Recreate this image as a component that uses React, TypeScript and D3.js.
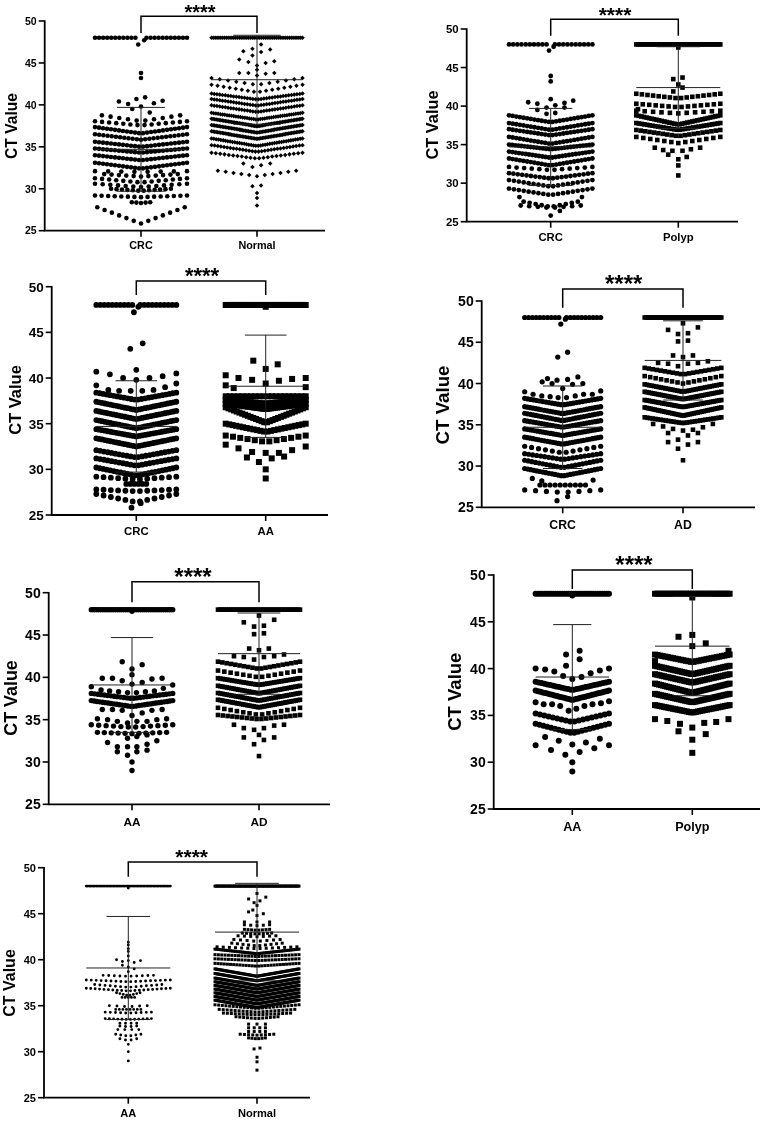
import React from "react";
import * as d3 from "d3";

type Row = [number, number, number, number, number?];
type Dot = [number, number];

const yTicks = [25, 30, 35, 40, 45, 50];
const stars = "****";
const yTitle = "CT Value";

// ---- summary values ----
const crcSummary = [34.7, 5.0];
const normalSummary = [43.0, 5.3];
const polypSummary = [42.4, 5.3];
const adSummary = [42.8, 4.8];
const aaSummary = [39.1, 5.6];

// rows: value, count, spread, sag toward the centre, inner gap.  dots: value, offset
const crc1Rows: Row[] = [[48,21,1,0,.12],[38.75,10,.85,.7],[38.05,14,1,.5],[37.35,24,1,.75],[36.5,23,1,.65],[35.6,24,1,.6],[34.8,24,1,.5],[34,24,1,.6],[33.1,24,1,.7],[32.1,8,1,.1],[31.75,11,.8,.3],[31.25,14,1,.5],[30.6,13,1,.4],[30,12,.65,.25],[29.2,15,1,.2],[28.4,5,.2,.1],[27.8,13,.95,1.95]];
const crc1Dots: Dot[] = [[47.7,.07],[47.2,-.06],[43.8,0],[43.2,0],[40.4,-.48],[40.1,-.28],[40.7,-.1],[40.9,.09],[40.2,.28],[40.5,.47],[39.5,-.19],[39.8,0],[39.1,.19]];
const normal1Rows: Row[] = [[48,50,1,0],[43.2,12,1,.8],[42.4,16,1,.9],[41.35,34,1,.7],[40.7,34,1,.8],[39.95,34,1,.8],[39.05,42,1,.8],[38.35,60,1,.9],[37.6,60,1,.9],[36.85,60,1,.9],[36,40,1,.9],[35.2,30,1,.8],[34.3,22,1,.7],[32.15,11,.86,.65]];
const normal1Dots: Dot[] = [[47.2,.09],[46.7,-.1],[46.4,-.3],[46.6,.29],[46.3,.09],[45.9,-.1],[45.4,-.39],[45.1,-.19],[44.7,0],[44.2,0],[45,.19],[45.2,.38],[43.8,-.39],[43.8,-.19],[43.7,.19],[43.8,.38],[43.5,0],[33,-.3],[32.6,-.1],[32.8,.09],[33,.29],[30.3,-.1],[30.4,.09],[29.5,0],[28.9,0],[28,0]];

const crc2Rows: Row[] = [[48,20,1,0,.1],[38.8,24,1,.9],[37.8,24,1,.9],[37,24,1,.8],[36,24,1,.9],[35,28,1,.6],[34.1,26,1,.8],[33.2,24,1,.9],[32.1,12,1,.4],[31.3,20,1,.7],[30.4,18,1,.85],[29.3,18,1,.85],[27.6,10,.65,.7],[27.1,8,.72,.3]];
const crc2Dots: Dot[] = [[47.7,.07],[47.2,-.04],[43.9,0],[43.2,0],[40.5,-.54],[40.3,-.32],[39.5,-.32],[39.8,-.1],[40.9,0],[40.1,.11],[40.4,.33],[39.8,.33],[40.7,.54],[39,-.1],[39.1,.11],[28.2,-.75],[28.2,.75],[25.8,0],[26.4,.22]];
const polyp2Rows: Row[] = [[48,44,1,0],[41.6,16,1,.6],[40.3,14,1,.45],[39.4,11,1,.35],[38.8,34,1,1.2],[37.8,32,1,.9],[36.9,20,1,.8],[36,13,1,.8]];
const polyp2Dots: Dot[] = [[47.6,0],[43.7,.1],[43.5,-.12],[42.8,0],[42.4,.1],[41.9,-.12],[39.6,-.96],[34.6,-.56],[34.3,-.36],[34.2,-.14],[34.2,.1],[34.4,.3],[34.6,.52],[33.7,-.24],[33.1,0],[33.4,.2],[32.3,0],[31,0]];

const crc3Rows: Row[] = [[48,20,1,0,.1],[38.4,24,1,.8],[37.4,29,1,.9],[36.4,29,1,.9],[35.4,29,1,.9],[34.4,29,1,.8],[33.4,29,1,.9],[32.1,22,1,.8],[31.2,22,1,.8],[30.2,24,1,.9],[29.2,12,1,.3],[28.4,6,.25,0],[27.8,12,1,.2],[27.3,12,1,.9]];
const crc3Dots: Dot[] = [[47.8,.05],[47.2,-.06],[43.8,.16],[43.2,-.15],[40.7,-1],[40.4,-.66],[40,-.33],[40.9,0],[39.8,0],[40,.33],[40.2,.66],[40.5,1],[39.2,-1],[39.4,1],[38.7,-.7],[38.6,-.43],[38.6,-.14],[38.6,.15],[38.7,.43],[39,.72],[26.3,.11],[25.8,-.12]];
const aa3Rows: Row[] = [[48,40,1,0],[38,20,1,0],[37.6,30,1,.4],[37.2,40,1,.6],[36.8,30,1,1.7],[35,24,1,.9],[33.7,12,1,.7]];
const aa3Dots: Dot[] = [[47.8,0],[41.9,-.31],[41.5,.3],[41,0],[40.3,-1],[40,-.68],[39.8,-.34],[39.7,.33],[39.9,.66],[40,1],[39.4,0],[39.2,-1],[38.9,-.8],[39,1],[32.3,-.68],[31.9,-.34],[31.3,-.47],[30.8,-.17],[31.8,0],[31.2,.15],[31.8,.33],[31.4,.46],[32.1,.66],[32.5,1],[32.7,-1],[30,0],[29,0]];

const crc4Rows: Row[] = [[48,19,1,0,.1],[38.2,26,1,.8],[37.2,28,1,.85],[36.4,28,1,.9],[35.5,28,1,.8],[34.5,30,1,.8],[33.5,28,1,.85],[32.4,12,1,.8],[31.5,20,1,.7],[30.7,22,1,.9],[29.7,26,1,.9],[27.7,10,.6,0],[27.1,8,1,.3]];
const crc4Dots: Dot[] = [[47.8,.07],[47.2,-.05],[43.8,.13],[43.2,-.13],[40.2,-.54],[40.6,-.4],[40,-.28],[40.4,-.15],[40.5,.13],[39.9,.26],[40.8,.4],[40,.53],[39.4,0],[39,-1],[38.7,-.78],[38.5,-.55],[38.4,-.33],[38.3,-.12],[38.3,.1],[38.5,.33],[38.7,.55],[38.7,.78],[39.1,1],[28.5,-.8],[28.2,-.55],[28.3,.8],[26.3,.13],[25.8,-.15]];
const ad4Rows: Row[] = [[48,44,1,0],[41.9,20,1,.8],[40.9,15,1,.9],[39.9,34,1,.9],[39,40,1,.9],[38,40,1,.85],[37.1,40,1,1],[35.9,30,1,.7]];
const ad4Dots: Dot[] = [[47.3,0],[46.8,.39],[46.5,-.39],[46,-.13],[46.1,.13],[45.1,-.13],[45.2,.13],[43.4,-.26],[43.4,.26],[43.2,0],[42.5,-.65],[42.4,-.39],[42.1,-.13],[42.4,.13],[42.5,.39],[42.7,.65],[35.1,-.78],[34.8,-.52],[35.1,.78],[34.7,.52],[34.5,-.26],[34.3,0],[34.4,.26],[34,-.39],[34,.39],[33.7,.13],[32.9,-.39],[33.2,-.13],[32.6,.13],[32.9,.39],[32.1,-.13],[30.7,0]];

const aa5Rows: Row[] = [[48,40,1,0],[38.1,26,1,.6],[37.25,30,1,.7],[34.4,12,1,.3],[33.5,11,.85,.15]];
const aa5Dots: Dot[] = [[47.8,0],[41.85,-.24],[41.5,.25],[41,0],[40.3,0],[39.9,-.73],[39.9,-.48],[39.6,-.24],[39.8,.49],[39.9,.74],[39.2,0],[39.4,.25],[38.9,-1],[39.1,1],[38.7,.77],[38.5,-.76],[38.4,-.55],[38.3,-.33],[38.2,-.11],[38.2,.11],[38.3,.33],[38.4,.55],[36.2,-.73],[36.2,-.48],[36.1,-.24],[35.8,.25],[36.1,.49],[36.2,.74],[35.5,0],[35.1,-.85],[35,-.6],[34.8,-.36],[34.6,-.11],[34.8,.12],[34.8,.37],[35,.61],[35.1,.85],[32.8,-.11],[33,.12],[33.2,.37],[32.5,.61],[32.3,-.6],[31.8,-.36],[31.2,-.36],[31.8,-.11],[31.8,.12],[31.2,.12],[32.1,.37],[31.4,.37],[30.8,-.11],[30,0],[29,0]];
const ad5Rows: Row[] = [[48,44,1,0],[41.85,20,1,.85],[40.8,14,1,.8],[39.9,36,1,.8],[39,38,1,.9],[38.15,38,1,.9],[37.35,40,1,.9],[36.4,14,1,.85],[35.55,18,1,.5]];
const ad5Dots: Dot[] = [[47.3,0],[46.8,.37],[46.5,-.37],[46,-.12],[46.1,.12],[45.1,-.12],[45.2,.12],[43.4,-.24],[43.4,.24],[43.2,0],[42.5,-.61],[42.4,-.37],[42.1,-.12],[42.4,.12],[42.5,.37],[42.7,.61],[34.4,-.61],[34,-.37],[33.8,-.12],[34,.12],[34.3,.37],[34.4,.61],[32.9,-.37],[33.2,0],[32.6,.12],[32.9,.37],[32.1,-.12],[30.7,0]];

const aa6Rows: Row[] = [[48,34,1,0],[38.6,26,1,.9],[37.65,32,1,1],[35.2,18,1,.9],[34.1,20,1,1]];
const aa6Dots: Dot[] = [[47.8,0],[41.9,.2],[41.5,-.17],[41,.2],[40.3,-.17],[40,-1],[39.9,-.74],[39.7,-.49],[40,1],[39.8,.75],[39.5,.5],[39.2,-.25],[38.9,0],[39.1,.25],[36.4,-1],[36.2,-.78],[36.2,-.55],[36,-.33],[35.5,-.1],[35.7,.11],[36,.33],[36.2,.55],[36.3,.78],[36.5,1],[32.7,-.74],[32.3,-.37],[32.5,.75],[32.1,.37],[31.8,-1],[31.8,1],[31.9,0],[31.3,-.58],[31.5,.6],[31.1,.2],[30.8,-.19],[30,0],[29,0]];
const polyp6Rows: Row[] = [[48,30,1,0],[41.5,30,1,.8],[40.3,34,1,.9],[39.4,34,1,.9],[38.4,38,1,1],[37.3,38,1,.9],[36.1,34,1,.8]];
const polyp6Dots: Dot[] = [[47.6,0],[43.4,-.37],[43.6,0],[42.7,.36],[42.4,0],[41.9,.97],[40.8,-1],[34.6,-1],[34.4,-.67],[34.1,-.33],[33.7,0],[34.2,.32],[34.3,.64],[34.6,.97],[33.3,-.37],[33,.36],[32.4,0],[31,0]];

const aa7Rows: Row[] = [[48,60,1,0],[38.3,10,.6,.1],[37.8,18,1,.2],[37.3,14,.8,.3],[36.9,20,1,.3],[36.4,8,.28,.3],[35.9,5,.15,0],[35,6,.45,.1],[34.6,8,.3,0],[34.3,10,.55,.1],[33.6,12,.55,.1],[33.1,4,.2,0],[32.8,4,.2,.1],[32.4,4,.25,0],[31.9,6,.3,.2],[31.4,4,.2,.2]];
const aa7Dots: Dot[] = [[47.8,0],[41.9,0],[41.6,0],[41.2,0],[40.9,0],[40.4,0],[40,-.28],[39.8,-.14],[39.9,0],[39.7,.14],[39.9,.29],[39.4,-.14],[39.2,0],[38.7,0],[39,.14],[30.8,0],[30,0],[29,0]];
const normal7Rows: Row[] = [[48,70,1,0],[44.1,3,.3,0],[43.8,5,.3,.1],[43.3,8,.3,.1],[42.9,8,.35,.1],[42.6,7,.45,.1],[42.2,8,.55,.2],[41.8,10,.6,.3],[41.4,14,.95,.2],[41.15,50,1,.5],[40.55,26,1,.2],[40.1,26,1,.2],[39.6,28,1,.3],[39,70,1,.8],[38.5,70,1,.8],[38,70,1,.8],[37.6,70,1,.8],[37.2,70,1,.8],[36.8,70,1,.8],[36.4,70,1,.8],[36,70,1,.8],[35.6,70,1,.8],[35.1,24,1,.4],[34.6,20,.9,.3],[34.2,18,.8,.2],[33.8,12,.5,.2],[33,3,.2,0],[32.6,4,.2,0],[32.2,4,.2,0],[31.9,9,.4,.1],[31.5,6,.2,.1]];
const normal7Dots: Dot[] = [[47.2,0],[46.6,-.2],[46.8,.21],[46.2,-.07],[46.4,.07],[45.9,0],[45.4,-.1],[45.2,-.2],[45,.15],[44.8,0],[30.4,.07],[30.3,-.07],[29.4,0],[28.9,0],[28,0]];

const symbols: Record<string, d3.SymbolType> = { circle: d3.symbolCircle, square: d3.symbolSquare, diamond: d3.symbolDiamond2 };

interface Group { name: string; rows: Row[]; dots: Dot[]; summary: number[]; shape: string; size: number; hw: number; }
interface Panel {
  ax: number; y50: number; y25: number; xEnd: number; cx: [number, number];
  brY: number; brEnd: number; starX: number; starY: number; starFs: number;
  labY: number; labFs: number; tickFs: number; titleX: number; titleY: number; titleFs: number;
  groups: [Group, Group];
}

const g = (name: string, rows: Row[], dots: Dot[], summary: number[], shape: string, size: number, hw: number): Group =>
  ({ name, rows, dots, summary, shape, size, hw });

const panels: Panel[] = [
  { ax: 44.7, y50: 21, y25: 230.7, xEnd: 325, cx: [141, 257], brY: 16.3, brEnd: 33, starX: 200, starY: 7, starFs: 20, labY: 245, labFs: 10.8, tickFs: 10.5, titleX: 11.5, titleY: 126, titleFs: 15.6,
    groups: [g("CRC", crc1Rows, crc1Dots, crcSummary, "circle", 4.6, 46), g("Normal", normal1Rows, normal1Dots, normalSummary, "diamond", 3.6, 45.5)] },
  { ax: 466.7, y50: 29, y25: 221.7, xEnd: 738, cx: [550.7, 678.3], brY: 19.3, brEnd: 35.7, starX: 615, starY: 10, starFs: 21, labY: 237, labFs: 11.3, tickFs: 11.4, titleX: 431.7, titleY: 125, titleFs: 16.4,
    groups: [g("CRC", crc2Rows, crc2Dots, crcSummary, "circle", 4.8, 41.7), g("Polyp", polyp2Rows, polyp2Dots, polypSummary, "square", 4.6, 42)] },
  { ax: 51.7, y50: 286.7, y25: 515, xEnd: 328, cx: [136.3, 265.7], brY: 281, brEnd: 295, starX: 202, starY: 270.7, starFs: 22, labY: 530.7, labFs: 11.4, tickFs: 13.5, titleX: 15, titleY: 400, titleFs: 16.5,
    groups: [g("CRC", crc3Rows, crc3Dots, crcSummary, "circle", 5.8, 40), g("AA", aa3Rows, aa3Dots, aaSummary, "square", 6, 40)] },
  { ax: 481.7, y50: 301, y25: 507.3, xEnd: 755, cx: [562.7, 683], brY: 289, brEnd: 307.7, starX: 623.7, starY: 278.3, starFs: 24, labY: 524.3, labFs: 12.3, tickFs: 14, titleX: 442.3, titleY: 405, titleFs: 18.7,
    groups: [g("CRC", crc4Rows, crc4Dots, crcSummary, "circle", 5.2, 38), g("AD", ad4Rows, ad4Dots, adSummary, "square", 4.6, 38.3)] },
  { ax: 48.7, y50: 592.7, y25: 804.3, xEnd: 330, cx: [132, 259], brY: 581.7, brEnd: 602.3, starX: 193, starY: 571, starFs: 24, labY: 821.7, labFs: 11.8, tickFs: 14, titleX: 11, titleY: 698, titleFs: 17.9,
    groups: [g("AA", aa5Rows, aa5Dots, aaSummary, "circle", 5.4, 40.7), g("AD", ad5Rows, ad5Dots, adSummary, "square", 4.6, 41)] },
  { ax: 493.7, y50: 575, y25: 809, xEnd: 760, cx: [572.3, 692.3], brY: 570, brEnd: 589, starX: 634, starY: 559.3, starFs: 24, labY: 826.7, labFs: 12.6, tickFs: 14, titleX: 454, titleY: 691.7, titleFs: 18.5,
    groups: [g("AA", aa6Rows, aa6Dots, aaSummary, "circle", 6, 36.7), g("Polyp", polyp6Rows, polyp6Dots, polypSummary, "square", 6, 37.3)] },
  { ax: 44, y50: 867.7, y25: 1097.7, xEnd: 310, cx: [128.3, 257], brY: 862, brEnd: 876.7, starX: 191.7, starY: 852.3, starFs: 21, labY: 1113.3, labFs: 11.1, tickFs: 11, titleX: 9.3, titleY: 983, titleFs: 16,
    groups: [g("AA", aa7Rows, aa7Dots, aaSummary, "circle", 2.9, 42), g("Normal", normal7Rows, normal7Dots, normalSummary, "square", 3, 42)] },
];

function rowPoints(row: Row): Dot[] {
  const [v, n, spread, sag, gap = 0] = row;
  const out: Dot[] = [];
  const t = (o: number) => [v - sag * (1 - Math.abs(o) / (spread || 1)), o] as Dot;
  if (gap > 0) {
    const side = Math.ceil(n / 2);
    const pos = d3.scaleLinear().domain([0, side - 1]).range([gap, spread]);
    for (let i = 0; i < side; i++) { out.push(t(pos(i))); out.push(t(-pos(i))); }
  } else if (n === 1) {
    out.push([v, 0]);
  } else {
    const pos = d3.scaleLinear().domain([0, n - 1]).range([-spread, spread]);
    for (let i = 0; i < n; i++) out.push(t(pos(i)));
  }
  return out;
}

const ink = "#000";
const font = "'Liberation Sans', Arial, sans-serif";

function PanelView({ p }: { p: Panel }) {
  const y = d3.scaleLinear().domain([25, 50]).range([p.y25, p.y50]);
  const x = d3.scalePoint<string>().domain(p.groups.map((d) => d.name)).range(p.cx);
  const tickLen = 6;
  const [x1, x2] = p.cx;
  return (
    <g fontFamily={font} fontWeight="bold" fill={ink}>
      {p.groups.map((gr) => {
        const cx = x(gr.name) as number;
        const xo = d3.scaleLinear().domain([-1, 1]).range([cx - gr.hw, cx + gr.hw]);
        const sym = d3.symbol().type(symbols[gr.shape]).size(gr.shape === "circle" ? Math.PI * (gr.size / 2) ** 2 : gr.size * gr.size)();
        const pts = [...gr.rows.flatMap(rowPoints), ...gr.dots];
        const [mean, sd] = gr.summary;
        return (
          <g key={gr.name}>
            {pts.map((d, i) => (
              <path key={i} d={sym as string} transform={`translate(${xo(d[1]).toFixed(2)},${y(d[0]).toFixed(2)})`} fill={ink} />
            ))}
            <g stroke="#222" strokeWidth={1} fill="none">
              <line x1={cx} x2={cx} y1={y(mean + sd)} y2={y(mean - sd)} />
              <line x1={xo(-1)} x2={xo(1)} y1={y(mean)} y2={y(mean)} />
              <line x1={xo(-0.52)} x2={xo(0.52)} y1={y(mean + sd)} y2={y(mean + sd)} />
              <line x1={xo(-0.52)} x2={xo(0.52)} y1={y(mean - sd)} y2={y(mean - sd)} />
            </g>
            <line x1={cx} x2={cx} y1={p.y25} y2={p.y25 + tickLen} stroke={ink} strokeWidth={1.6} />
            <text x={cx} y={p.labY + p.labFs * 0.36} textAnchor="middle" fontSize={p.labFs}>{gr.name}</text>
          </g>
        );
      })}
      <path d={`M${p.ax},${p.y50 - 0.8}V${p.y25}H${p.xEnd}`} fill="none" stroke={ink} strokeWidth={1.8} />
      {yTicks.map((t) => (
        <g key={t}>
          <line x1={p.ax - tickLen} x2={p.ax} y1={y(t)} y2={y(t)} stroke={ink} strokeWidth={1.6} />
          <text x={p.ax - tickLen - 2} y={y(t) + p.tickFs * 0.36} textAnchor="end" fontSize={p.tickFs}>{t}</text>
        </g>
      ))}
      <text transform={`translate(${p.titleX + p.titleFs * 0.36},${p.titleY}) rotate(-90)`} textAnchor="middle" fontSize={p.titleFs}>{yTitle}</text>
      <path d={`M${x1},${p.brEnd}V${p.brY}H${x2}V${p.brEnd}`} fill="none" stroke={ink} strokeWidth={1.5} />
      <text x={p.starX} y={p.starY + p.starFs * 0.58} textAnchor="middle" fontSize={p.starFs}>{stars}</text>
    </g>
  );
}

export default function App() {
  return (
    <svg width={777} height={1121} viewBox="0 0 777 1121" style={{ position: "absolute", left: 0, top: 0, display: "block", background: "#fff", filter: "blur(0.3px)" }}>
      {panels.map((p, i) => <PanelView key={i} p={p} />)}
    </svg>
  );
}
